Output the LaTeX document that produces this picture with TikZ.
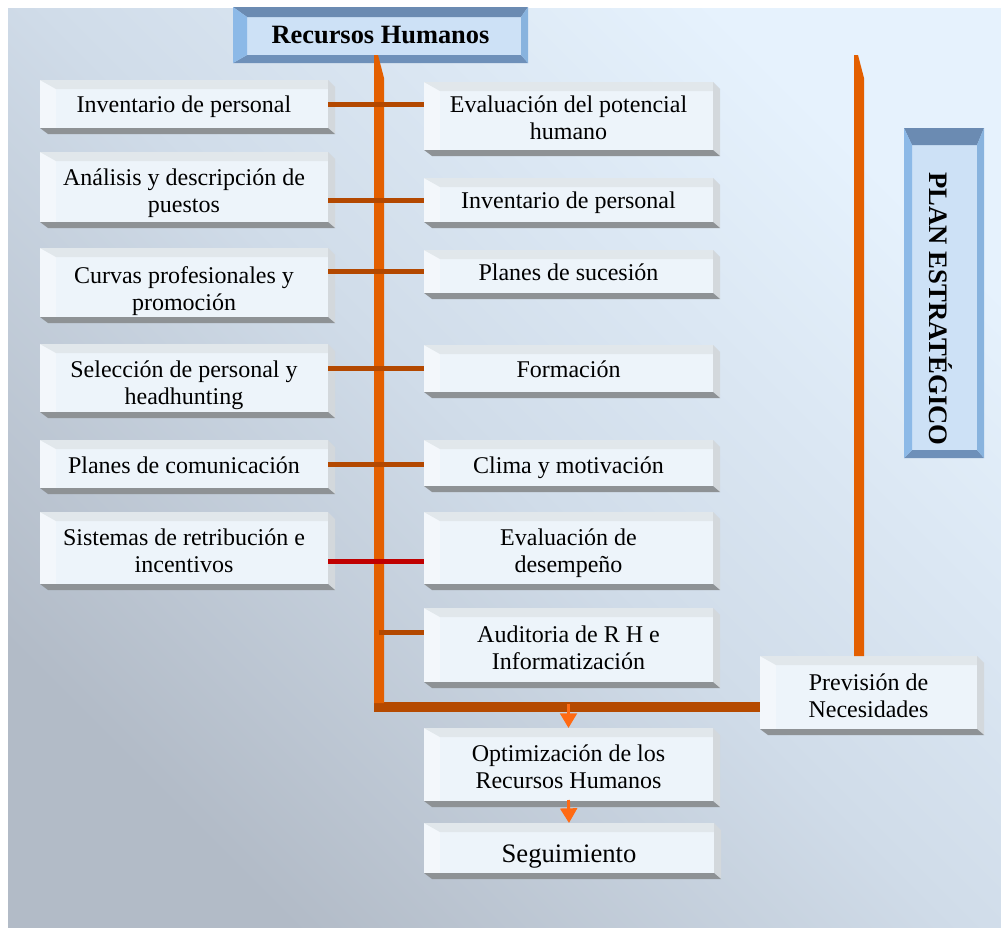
\documentclass[tikz,border=0pt]{standalone}
\usepackage{fontspec}
\setmainfont{Liberation Serif}
\usetikzlibrary{calc,arrows.meta}

\definecolor{bgtop}{HTML}{E6F2FD}
\definecolor{bgmid}{HTML}{D0DCE9}
\definecolor{bgbot}{HTML}{B2BBC7}
\definecolor{wfront}{HTML}{EDF4FA}
\definecolor{wleft}{HTML}{F3F7FB}
\definecolor{wtop}{HTML}{E1E7EB}
\definecolor{wright}{HTML}{D3D8DC}
\definecolor{wbot}{HTML}{8E9295}
\definecolor{bfront}{HTML}{CDE1F6}
\definecolor{btop}{HTML}{6B8BB2}
\definecolor{bbot}{HTML}{6E90B9}
\definecolor{bleft}{HTML}{8CB9E7}
\definecolor{bright}{HTML}{88B3DE}
\definecolor{trunkc}{HTML}{E35F00}
\definecolor{trunkd}{HTML}{B54A00}
\definecolor{linkc}{HTML}{B34800}
\definecolor{linkred}{HTML}{C00000}
\definecolor{arrc}{HTML}{FF6A13}

% bevelled faces of a light box (front face = the node itself)
\newcommand\whitefaces[1]{%
  \fill[wleft] (#1.north west) -- ($(#1.north west)+(16,9)$) -- ($(#1.south west)+(16,0)$) -- (#1.south west) -- cycle;
  \fill[wtop] (#1.north west) -- (#1.north east) -- ($(#1.north east)+(0,9)$) -- ($(#1.north west)+(16,9)$) -- cycle;
  \fill[wright] (#1.north east) -- ($(#1.north east)+(7,7)$) -- ($(#1.south east)+(7,6)$) -- (#1.south east) -- cycle;
  \fill[wbot] (#1.south west) -- (#1.south east) -- ($(#1.south east)+(7,6)$) -- ($(#1.south west)+(8,6)$) -- cycle;
}
% bevel frame of a blue box: name, left, top, right, bottom widths
\newcommand\bluefaces[5]{%
  \fill[btop] (#1.north west) -- (#1.north east) -- ($(#1.north east)+(-#4,#3)$) -- ($(#1.north west)+(#2,#3)$) -- cycle;
  \fill[bbot] (#1.south west) -- (#1.south east) -- ($(#1.south east)+(-#4,-#5)$) -- ($(#1.south west)+(#2,-#5)$) -- cycle;
  \fill[bleft] (#1.north west) -- ($(#1.north west)+(#2,#3)$) -- ($(#1.south west)+(#2,-#5)$) -- (#1.south west) -- cycle;
  \fill[bright] (#1.north east) -- ($(#1.north east)+(-#4,#3)$) -- ($(#1.south east)+(-#4,-#5)$) -- (#1.south east) -- cycle;
}
% centred lines, lowered by #1 without changing the box size
\newcommand\boxtext[2]{\raisebox{-#1}[\height][\depth]{\begin{tabular}{@{}c@{}}#2\end{tabular}}}

\tikzset{
  % box spanning the corners (x0,y0) and (x1,y1), in pixel units
  span/.style n args={4}{at={({(#1+#3)/2},{(#2+#4)/2})},
    minimum width={(#3-#1)*0.75pt}, minimum height={(#4-#2)*0.75pt}},
  wbox/.style={fill=wfront, inner sep=0pt, outer sep=0pt, anchor=center,
    font=\fontsize{18}{20.25}\selectfont},
  bbox/.style={fill=bfront, inner sep=0pt, outer sep=0pt, align=center, anchor=center,
    font=\bfseries\fontsize{19.8}{24}\selectfont},
  link/.style={draw=linkc, line width=3.75pt},
  redlink/.style={draw=linkred, line width=3.75pt},
  trunkH/.style={draw=trunkd, line width=7.5pt},
  flow/.style={draw=arrc, line width=2.2pt, -{Triangle[width=12.5pt,length=11pt]}},
}

\begin{document}
\begin{tikzpicture}[x=0.75pt,y=-0.75pt]
\fill[white] (0,0) rectangle (1001,928);
\useasboundingbox (0,0) rectangle (1001,928);
\shade[top color=bgtop, bottom color=bgbot, middle color=bgmid, shading angle=-45]
  (8,8) rectangle (1001,928);

% left column
\node[wbox, span={40}{80}{328}{128}] (L1) {\boxtext{2.25pt}{Inventario de personal}};
\node[wbox, span={40}{152}{328}{222}] (L2) {\boxtext{5.1pt}{Análisis y descripción de\\puestos}};
\node[wbox, span={40}{248}{328}{317}] (L3) {\boxtext{6.5pt}{Curvas profesionales y\\promoción}};
\node[wbox, span={40}{344}{328}{412}] (L4) {\boxtext{5.8pt}{Selección de personal y\\headhunting}};
\node[wbox, span={40}{440}{328}{488}] (L5) {\boxtext{3pt}{Planes de comunicación}};
\node[wbox, span={40}{512}{328}{584}] (L6) {\boxtext{4.3pt}{Sistemas de retribución e\\incentivos}};

% right column
\node[wbox, span={424}{82}{713}{150}] (R1) {\boxtext{3.5pt}{Evaluación del potencial\\humano}};
\node[wbox, span={424}{178}{713}{222}] (R2) {\boxtext{2.25pt}{Inventario de personal}};
\node[wbox, span={424}{250}{713}{293}] (R3) {\boxtext{3pt}{Planes de sucesión}};
\node[wbox, span={424}{345}{713}{392}] (R4) {\boxtext{3pt}{Formación}};
\node[wbox, span={424}{440}{713}{486}] (R5) {\boxtext{3.75pt}{Clima y motivación}};
\node[wbox, span={424}{512}{713}{584}] (R6) {\boxtext{4.3pt}{Evaluación de\\desempeño}};
\node[wbox, span={424}{608}{713}{682}] (R7) {\boxtext{3.9pt}{Auditoria de R H e\\Informatización}};

% result chain
\node[wbox, span={424}{728}{713}{801}] (Opt) {\boxtext{3.9pt}{Optimización de los\\Recursos Humanos}};
\node[wbox, span={424}{823}{714}{873}, font=\fontsize{20}{24}\selectfont] (Seg) {\boxtext{6pt}{Seguimiento}};
\node[wbox, span={760}{656}{977}{729}] (Prev) {\boxtext{4.3pt}{Previsión de\\Necesidades}};

\foreach \n in {L1,L2,L3,L4,L5,L6,R1,R2,R3,R4,R5,R6,R7,Opt,Seg,Prev}{\whitefaces{\n}}

% blue headers
\node[bbox, span={233}{7}{528}{63}] (RH) {Recursos Humanos};
\bluefaces{RH}{14}{10}{7}{8}
\node[bbox, span={904}{128}{984}{458}] (PE) {};
\bluefaces{PE}{8}{17}{7}{8}
\node[rotate=-90, font=\bfseries\fontsize{20}{24}\selectfont] (PEtxt) at (941,309) {PLAN ESTRATÉGICO};

% trunks
\coordinate (sT) at (379,55);
\coordinate (sB) at (379,707);
\coordinate (pT) at (859,55);
\draw[trunkH] ($(sB)+(-5,0)$) -- (sB -| Prev.west);
\fill[trunkc] ($(sT)+(-5,0)$) -- ($(sT)+(-1,0)$) -- ($(sT)+(5,23)$) -- ($(sB)+(5,-4)$) -- ($(sB)+(-5,-4)$) -- cycle;
\fill[trunkc] ($(pT)+(-5,0)$) -- ($(pT)+(-1,0)$) -- ($(pT)+(5,23)$) -- ($(pT |- Prev.north)+(5,0)$) -- ($(pT |- Prev.north)+(-5,0)$) -- cycle;

% branches
\draw[link] (L1.east) -- (L1.east -| R1.west);
\draw[link] (R2.west -| L2.east) -- (R2.west);
\draw[link] (R3.west -| L3.east) -- (R3.west);
\draw[link] (R4.west -| L4.east) -- (R4.west);
\draw[link] (L5.east) -- (L5.east -| R5.west);
\draw[redlink] ($(L6.east)+(0,13)$) -- ($(L6.east -| R6.west)+(0,13)$);
\draw[link] ($(R7.west -| sT)+(0,-13)$) -- ($(R7.west)+(0,-13)$);

% flow arrows
\draw[flow] ($(sB -| Opt.north)+(0,-3)$) -- (Opt.north);
\draw[flow] ($(Opt.south)+(0,-1)$) -- (Seg.north);
\end{tikzpicture}
\end{document}
